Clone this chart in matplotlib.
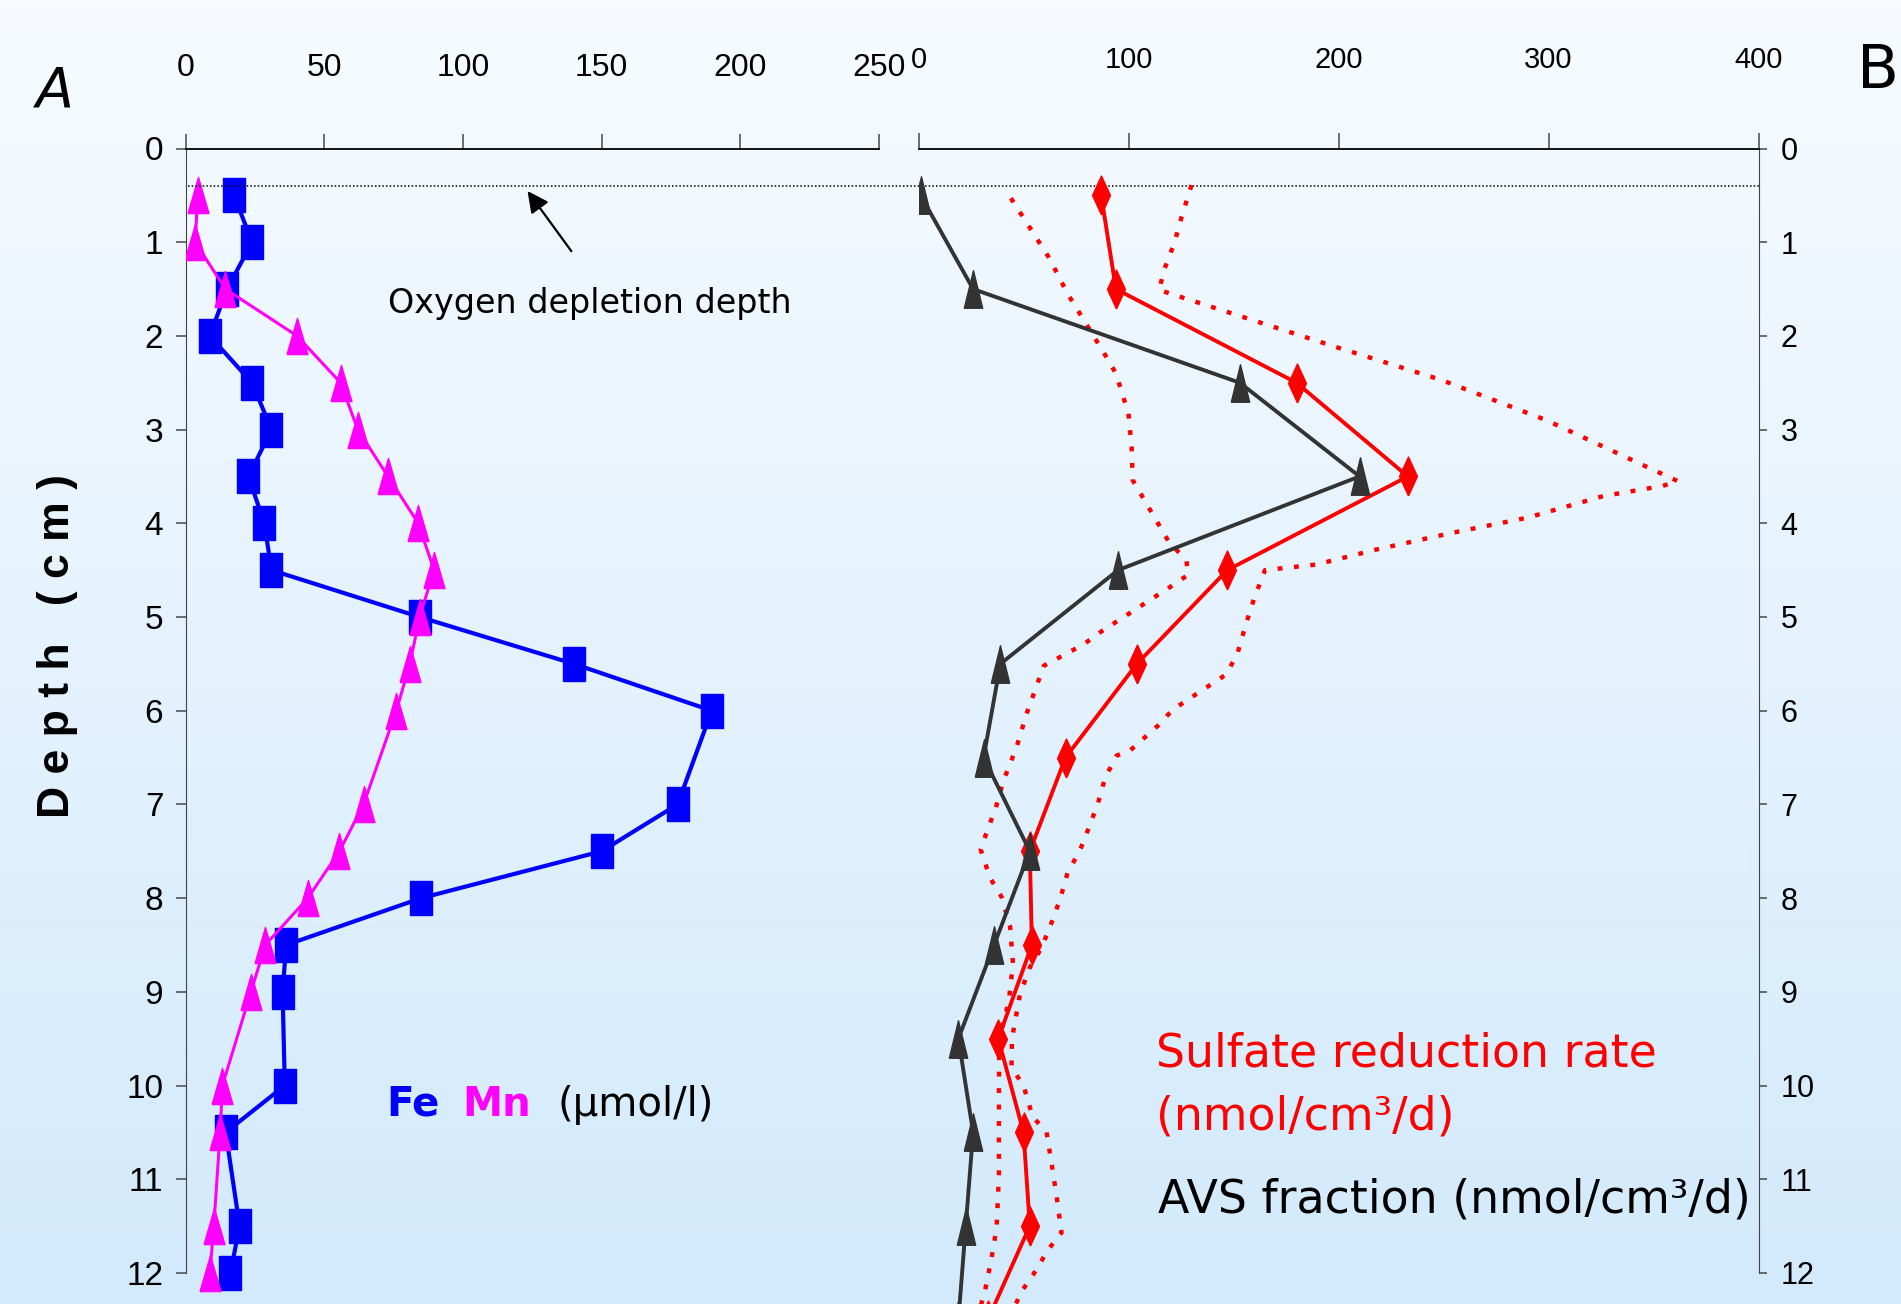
import matplotlib

matplotlib.use("Agg")

import matplotlib.pyplot as plt  # noqa: E402
import numpy as np  # noqa: E402

# --- panel A: pore-water Fe and Mn (umol/l) ---------------------------------
depth_a = [0.5, 1, 1.5, 2, 2.5, 3, 3.5, 4, 4.5, 5, 5.5, 6, 7, 7.5, 8, 8.5, 9,
           10, 10.5, 11.5, 12]
fe = [17.5, 24, 15, 8.7, 24, 31, 22.7, 28.4, 31, 84.4, 140, 189.7, 177.4,
      150, 85, 36.3, 35, 35.8, 14.5, 19.5, 16.2]
mn = [4.4, 3.5, 14.4, 40.2, 55.9, 62.1, 73, 83.9, 89.6, 84.4, 80.9, 76, 64.2,
      55.5, 44.1, 28.8, 23.6, 13.3, 12.5, 10.2, 8.8]

# --- panel B: sulfate reduction rate and AVS fraction (nmol/cm3/d) ----------
depth_b = [0.5, 1.5, 2.5, 3.5, 4.5, 5.5, 6.5, 7.5, 8.5, 9.5, 10.5, 11.5, 12.5]
srr = [87, 94, 180, 233, 147, 104, 70, 53, 54, 38, 50, 53, 33]
avs = [1, 26, 153, 210, 95, 39, 31, 53, 36, 19, 26, 22.5, 19]

# lower / upper envelope of the sulfate reduction rate
srr_low_depth = [0.53, 1.16, 1.55, 2.17, 2.4, 2.83, 3.19, 3.54, 4.19, 4.4,
                 4.55, 4.67, 5.17, 5.29, 5.52, 6.03, 6.39, 6.75, 7.03, 7.32,
                 7.48, 7.78, 7.99, 8.3, 8.7, 9.1, 9.5, 10.0, 10.95, 11.52,
                 11.84, 12.2, 12.4]
srr_low = [44, 62, 71, 88, 94, 100, 101.5, 102, 119, 127.6, 128.4, 120.5, 86,
           78.8, 59.7, 51.5, 46.7, 40.4, 36.9, 32.1, 29.6, 34, 39.6, 43.6, 45,
           43, 38.5, 38.3, 38.3, 37.2, 34.8, 31.6, 29]
srr_high_depth = [0.39, 0.73, 1.01, 1.3, 1.51, 2.12, 2.47, 2.9, 3.41, 3.55,
                  3.6, 3.71, 3.94, 4.1, 4.28, 4.44, 4.5, 4.79, 5.07, 5.38,
                  5.61, 5.99, 6.16, 6.42, 6.48, 6.72, 7.0, 7.25, 7.49, 7.73,
                  8.02, 8.26, 8.53, 8.74, 9.03, 9.5, 9.81, 10.0, 10.33, 10.5,
                  10.88, 11.22, 11.57, 11.75, 12.02, 12.2, 12.4]
srr_high = [130, 125.3, 121.8, 116.9, 114.6, 199, 249, 299, 348, 361.6, 354.5,
            326, 290, 254.5, 218, 189.5, 165, 160, 156, 152, 146.7, 121, 114,
            101, 94.3, 88.8, 85.3, 81.1, 76.9, 71, 67.3, 63.4, 58.6, 53, 48.3,
            44.5, 44.3, 50, 54.3, 61, 63.7, 66, 68.1, 61.8, 54.6, 49, 45]

oxygen_depth = 0.4
depth_ticks = list(range(13))

plt.rcParams["font.family"] = ["Liberation Sans", "DejaVu Sans"]

W, H = 1901, 1304
fig = plt.figure(figsize=(W / 100, H / 100), dpi=100)


def fx(x):
    return x / W


def fy(y):
    return 1 - y / H


# pale blue gradient behind everything
bg = fig.add_axes([0, 0, 1, 1], zorder=-10)
top_rgb = np.array([247, 251, 255]) / 255
bot_rgb = np.array([210, 234, 252]) / 255
t = np.linspace(0, 1, 256)[:, None, None]
bg.imshow(top_rgb + (bot_rgb - top_rgb) * t, aspect="auto", extent=[0, 1, 0, 1])
bg.set_axis_off()

y_top, px_per_cm = 148.5, 93.7
depth_bottom = (H - y_top) / px_per_cm

ax1 = fig.add_axes([fx(185.5), 0, fx(879) - fx(185.5), fy(y_top)])
ax2 = fig.add_axes([fx(918.5), 0, fx(1758.5) - fx(918.5), fy(y_top)])
for ax in (ax1, ax2):
    ax.patch.set_alpha(0)
    ax.set_ylim(depth_bottom, 0)
    ax.spines["bottom"].set_visible(False)
    ax.spines["top"].set_linewidth(1.3)
    ax.xaxis.tick_top()
    ax.set_yticks(depth_ticks)

ax1.set_xlim(0, 250)
ax1.set_xticks(range(0, 251, 50))
ax1.spines["right"].set_visible(False)
ax1.spines["left"].set_bounds(0, 12)
ax1.spines["left"].set_color("#444444")
ax1.tick_params(axis="x", length=11, width=1.2, pad=36, labelsize=23, color="#555555")
ax1.tick_params(axis="y", length=7, width=1.2, pad=9, labelsize=24, color="#555555")

ax2.set_xlim(0, 400)
ax2.set_xticks(range(0, 401, 100))
ax2.spines["left"].set_visible(False)
ax2.spines["right"].set_bounds(0, 12)
ax2.spines["right"].set_color("#444444")
ax2.yaxis.tick_right()
ax2.tick_params(axis="x", length=11.5, width=1.2, pad=42, labelsize=21, color="#555555")
ax2.tick_params(axis="y", length=6, width=1.2, pad=10, labelsize=22, color="#555555")

# tall markers
box = [(-0.64, -1), (0.64, -1), (0.64, 1), (-0.64, 1), (-0.64, -1)]
tri_mn = [(-0.58, -1), (0.58, -1), (0, 1), (-0.58, -1)]
tri_avs = [(-0.49, -1), (0.49, -1), (0, 1), (-0.49, -1)]
diamond = [(0, -1), (0.46, 0), (0, 1), (-0.46, 0), (0, -1)]

ax1.plot(fe, depth_a, color="#0000ff", lw=3.0, marker=box, ms=24,
         mec="#0000ff", mfc="#0000ff", zorder=3)
ax1.plot(mn, depth_a, color="#ff00ff", lw=2.2, marker=tri_mn, ms=26,
         mec="#ff00ff", mfc="#ff00ff", zorder=4)

ax2.plot(srr_low, srr_low_depth, color="#ff0000", lw=3.2,
         ls=(0, (1.1, 2.6)), zorder=2)
ax2.plot(srr_high, srr_high_depth, color="#ff0000", lw=3.2,
         ls=(0, (1.1, 2.6)), zorder=2)
ax2.plot(srr, depth_b, color="#ff0000", lw=2.8, marker=diamond, ms=28,
         mec="#ff0000", mfc="#ff0000", zorder=3)
ax2.plot(avs, depth_b, color="#333333", lw=2.8, marker=tri_avs, ms=27,
         mec="#333333", mfc="#333333", zorder=4)

# oxygen depletion depth, dotted across both panels
x_end = ax1.transData.inverted().transform(ax2.transAxes.transform((1, 0)))[0]
ax1.plot([0.8, x_end], [oxygen_depth] * 2, color="black", lw=1.1,
         ls=(0, (1, 1.4)), clip_on=False, zorder=5)
ax1.annotate("", xy=(122.7, 0.43), xytext=(139.7, 1.12),
             arrowprops=dict(arrowstyle="-|>", color="black", lw=1.6,
                             mutation_scale=32))
ax1.text(fx(388), fy(303), "Oxygen depletion depth", transform=fig.transFigure,
         family="DejaVu Sans", fontsize=24, ha="left", va="center")

fig.text(fx(386), fy(1105), "Fe", color="#0000ff", family="DejaVu Sans",
         fontsize=29, weight="bold", ha="left", va="center")
fig.text(fx(462), fy(1105), "Mn", color="#ff00ff", family="DejaVu Sans",
         fontsize=29, weight="bold", ha="left", va="center")
fig.text(fx(557), fy(1105), "(\u00b5mol/l)", color="black", family="DejaVu Sans",
         fontsize=29, ha="left", va="center")

fig.text(fx(1156), fy(1054), "Sulfate reduction rate", color="#ff0000",
         family="DejaVu Sans", fontsize=33, ha="left", va="center")
fig.text(fx(1156), fy(1117), "(nmol/cm\u00b3/d)", color="#ff0000",
         family="DejaVu Sans", fontsize=33, ha="left", va="center")
fig.text(fx(1158), fy(1200), "AVS fraction (nmol/cm\u00b3/d)", color="black",
         family="DejaVu Sans", fontsize=33, ha="left", va="center")

fig.text(fx(57), fy(646), "D e p t h   ( c m )", rotation=90,
         family="Liberation Sans", weight="bold", fontsize=32,
         ha="center", va="center")
fig.text(fx(55), fy(91), "A", family="DejaVu Sans", fontsize=40,
         style="italic", ha="center", va="center")
fig.text(fx(1878), fy(72), "B", family="DejaVu Sans", fontsize=44,
         ha="center", va="center")

fig.savefig("out.png", dpi=100)
